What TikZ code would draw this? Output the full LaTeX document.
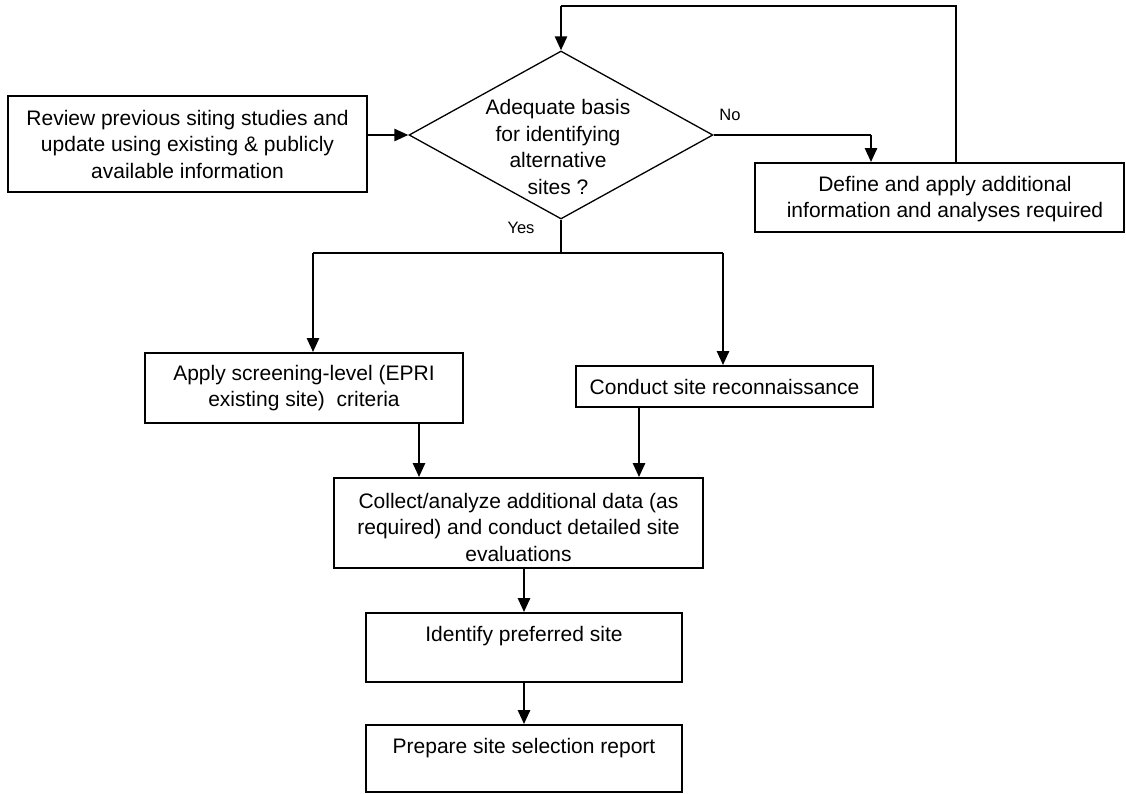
\documentclass[tikz,border=0pt]{standalone}
\usepackage{fontspec}
\setmainfont{Liberation Sans}
\usetikzlibrary{shapes.geometric,arrows.meta}
\begin{document}
\begin{tikzpicture}[x=1pt,y=-1pt,
  box/.style={draw, line width=1.8pt, inner sep=0pt, align=center,
              font=\fontsize{21}{26.5}\selectfont},
  txt/.style={inner sep=0pt, align=center, font=\fontsize{21}{26.5}\selectfont},
  lbl/.style={inner sep=0pt, font=\fontsize{16.5}{20}\selectfont},
  wire/.style={line width=1.3pt},
  arr/.style={line width=2.6pt, -{Triangle[width=12pt,length=14pt]}},
]
\useasboundingbox (0,0) rectangle (1126,794);

% nodes
\node[box, minimum width=359pt, minimum height=96pt] (review) at (187.5,144)
  {Review previous siting studies and\\update using existing \& publicly\\available information};
\node[draw, diamond, line width=1.3pt, minimum width=304pt, minimum height=168pt, inner sep=0pt] (dec) at (561,135) {};
\node[txt] (dectext) at (558,147) {Adequate basis\\for identifying\\alternative\\sites ?};
\node[box, minimum width=369pt, minimum height=69pt] (define) at (939.5,197.5) {};
\node[txt] (deftext) at (945,199) {Define and apply additional\\information and analyses required};
\node[box, minimum width=318pt, minimum height=70pt] (apply) at (304,388)
  {Apply screening-level (EPRI\\existing site)\ \ criteria};
\node[box, minimum width=297pt, minimum height=41pt] (conduct) at (724.5,386.5)
  {Conduct site reconnaissance};
\node[box, minimum width=369pt, minimum height=90pt] (collect) at (518.5,523) {};
\node[txt] (collecttext) at (518.5,527)
  {Collect/analyze additional data (as\\required) and conduct detailed site\\evaluations};
\node[box, minimum width=316pt, minimum height=69pt] (identify) at (524,647.5) {};
\node[txt] (identifytext) at (524,636) {Identify preferred site};
\node[box, minimum width=316pt, minimum height=67pt] (prepare) at (524,758.5) {};
\node[txt] (preparetext) at (524,748) {Prepare site selection report};

\node[lbl] (yes) at (521,228) {Yes};
\node[lbl] (no) at (730,115) {No};

% connectors
\draw[arr] (review.east |- dec.west) -- (dec.west);

\coordinate (loopR) at (956,6);
\coordinate (loopL) at (dec.north |- loopR);
\draw[wire] (define.north -| loopR) -- (loopR) -- (loopL);
\draw[arr] (loopL) -- (dec.north);

\coordinate (noC) at (871,135);
\draw[wire] (dec.east) -- (noC);
\draw[arr] (noC) -- (noC |- define.north);

\coordinate (split) at (561,253);
\coordinate (splitL) at (313,253);
\coordinate (splitR) at (723,253);
\draw[wire] (dec.south) -- (split);
\draw[wire] (splitL) -- (splitR);
\draw[arr] (splitL) -- (splitL |- apply.north);
\draw[arr] (splitR) -- (splitR |- conduct.north);

\draw[arr] ([xshift=115pt]apply.south) -- ([xshift=115pt]apply.south |- collect.north);
\draw[arr] ([xshift=-85.5pt]conduct.south) -- ([xshift=-85.5pt]conduct.south |- collect.north);
\draw[arr] (identify.north |- collect.south) -- (identify.north);
\draw[arr] (identify.south) -- (prepare.north);
\end{tikzpicture}
\end{document}
